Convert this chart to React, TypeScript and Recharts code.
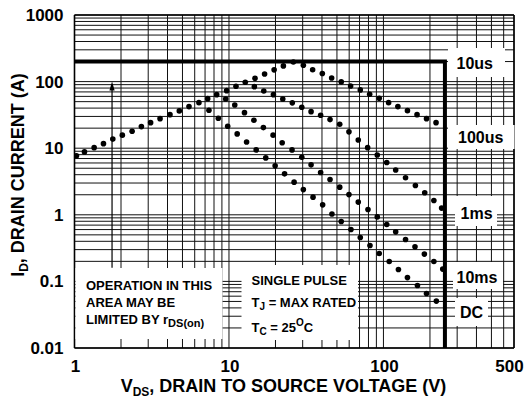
import { ScatterChart, Scatter, XAxis, YAxis, CartesianGrid, ReferenceLine } from 'recharts'

// grid + labels
const xGridTicks = [1, 2, 3, 4, 5, 6, 7, 8, 9, 10, 20, 30, 40, 50, 60, 70, 80, 90, 100, 200, 300, 400, 500, 600, 700]
const xLabelTicks = [1, 10, 100, 500]
const yGridTicks = [
  0.01, 0.02, 0.03, 0.04, 0.05, 0.06, 0.07, 0.08, 0.09,
  0.1, 0.2, 0.3, 0.4, 0.5, 0.6, 0.7, 0.8, 0.9,
  1, 2, 3, 4, 5, 6, 7, 8, 9,
  10, 20, 30, 40, 50, 60, 70, 80, 90,
  100, 200, 300, 400, 500, 600, 700, 800, 900,
  1000,
]
const yLabelTicks = [0.01, 0.1, 1, 10, 100, 1000]
const yLabelText = ['0.01', '0.1', '1', '10', '100', '1000']

// [V, A]
const rdsOnLimit = [
  [1.03, 7.7], [1.16, 8.8], [1.34, 10.2], [1.54, 11.7], [1.77, 13.7], [2.04, 15.7], [2.36, 18.0],
  [2.71, 21.1], [3.11, 24.2], [3.58, 27.8], [4.15, 31.9], [4.77, 36.3], [5.51, 42.1], [6.39, 48.3],
  [7.28, 55.5], [8.33, 63.7], [9.66, 73.1], [11.1, 85.1], [12.75, 97.8], [14.74, 112], [17.0, 130],
  [19.6, 150], [22.5, 172], [26.1, 197],
]
const pulse100us = [
  [30.3, 176], [34.8, 151], [40.2, 132], [46.2, 113], [53.3, 99], [61.3, 86], [70.8, 75], [81.4, 64.6],
  [93.9, 56.2], [108, 48.3], [124, 42.1], [143, 36.6], [165, 31.9], [190, 27.8], [219, 24.2],
]
const pulse1ms = [
  [14.6, 84], [16.8, 72.4], [19.4, 63.7], [22.3, 54.9], [25.7, 48], [29.6, 41.2], [34, 35.4], [39.2, 31.3],
  [45.1, 26.9], [52.1, 22.9], [59.8, 17.6], [68.7, 13.3], [79, 10.2], [91.2, 7.9], [105, 6.1], [120, 4.7],
  [139, 3.6], [161, 2.75], [185, 2.14], [212, 1.64], [238, 1.26],
]
const pulse10ms = [
  [9.52, 54.9], [10.9, 44.6], [12.6, 34.2], [14.5, 26.3], [16.7, 20.4], [19.3, 15.7], [22.1, 12.1],
  [25.6, 9.43], [29.6, 7.33], [34, 5.62], [39.2, 4.31], [45.1, 3.38], [52.1, 2.6], [59.8, 2.01],
  [68.7, 1.55], [79.4, 1.2], [91.2, 0.93], [105, 0.714], [120, 0.555], [139, 0.425], [160, 0.33],
  [184, 0.257], [212, 0.199], [242, 0.153],
]
const dcLimit = [
  [7.42, 37.2], [8.53, 28.2], [9.81, 21.4], [11.3, 16.4], [13, 12.4], [15, 9.43], [17.3, 7.15],
  [19.9, 5.43], [22.9, 4.12], [26.4, 3.09], [30.3, 2.39], [35, 1.84], [40.4, 1.41], [46.4, 1.03],
  [53.3, 0.792], [61.6, 0.601], [70.8, 0.456], [81.8, 0.346], [93.9, 0.262], [109, 0.199], [125, 0.151],
  [143, 0.114], [166, 0.0868], [190, 0.0658], [220, 0.0506],
]
// 10us boundary: 200 A current limit and 250 V breakdown
const pulse10usLimit = [[1, 200], [250, 200], [250, 0.01]]
const rdsArrow = [[1.75, 0.16], [1.75, 100]]

const toPoints = (rows: number[][]) => rows.map(([x, y]) => ({ x, y }))

const FONT = '"Liberation Sans", Arial, Helvetica, sans-serif'

const Dot = (p: any) => <circle cx={p.cx} cy={p.cy} r={2.8} fill="#000" />
const NoDot = () => <g />

const XTick = (props: any) => {
  const { x, y, payload } = props
  if (!xLabelTicks.includes(payload.value)) return <g />
  const dx = payload.value === 500 ? 18 : 1
  return (
    <text x={x + dx} y={y + 24} textAnchor="middle" fontFamily={FONT} fontWeight="bold" fontSize={17} fill="#000">
      {payload.value}
    </text>
  )
}

const YTick = (props: any) => {
  const { x, y, payload } = props
  const i = yLabelTicks.indexOf(payload.value)
  if (i < 0) return <g />
  return (
    <text x={x - 11} y={y + 6} textAnchor="end" fontFamily={FONT} fontWeight="bold" fontSize={17} fill="#000">
      {yLabelText[i]}
    </text>
  )
}

const Arrow = (p: any) => {
  const { x1, y1, x2, y2 } = p
  return (
    <g>
      <line x1={x1} y1={y1} x2={x2} y2={y2 + 6} stroke="#000" strokeWidth={1.2} />
      <polygon points={`${x2},${y2} ${x2 - 2.6},${y2 + 9} ${x2 + 2.6},${y2 + 9}`} fill="#000" />
    </g>
  )
}

const boxes = [
  { x: 75.5, y: 268, w: 147, h: 71 },
  { x: 241.5, y: 265, w: 116.5, h: 75 },
  { x: 448, y: 48, w: 57, h: 29 },
  { x: 448, y: 125, w: 66.5, h: 24 },
  { x: 455, y: 196, w: 42, h: 30 },
  { x: 453, y: 262, w: 50, h: 27 },
  { x: 455, y: 298, w: 33, h: 28 },
]

function Overlay() {
  const t = { fontFamily: FONT, fontWeight: 'bold' as const, fill: '#000' }
  return (
    <svg width={526} height={404} style={{ position: 'absolute', left: 0, top: 0, pointerEvents: 'none' }}>
      {boxes.map((b, i) => (
        <rect key={i} x={b.x} y={b.y} width={b.w} height={b.h} fill="#fff" />
      ))}
      <g {...t} fontSize={13}>
        <text x={86} y={289.5}>OPERATION IN THIS</text>
        <text x={86} y={306.5}>AREA MAY BE</text>
        <text x={86} y={324}>
          LIMITED BY r<tspan dy={3} fontSize={11}>DS(on)</tspan>
        </text>
        <text x={251.5} y={285}>SINGLE PULSE</text>
        <text x={251.5} y={306.5}>
          T<tspan dy={3} fontSize={10}>J</tspan>
          <tspan dy={-3}> = MAX RATED</tspan>
        </text>
        <text x={251.5} y={331.5}>
          T<tspan dy={3} fontSize={10}>C</tspan>
          <tspan dy={-3}> = 25</tspan>
          <tspan dy={-6} fontSize={10}>O</tspan>
          <tspan dy={6}>C</tspan>
        </text>
      </g>
      <g {...t} fontSize={16}>
        <text x={456.5} y={69}>10us</text>
        <text x={458} y={143}>100us</text>
        <text x={460.5} y={219}>1ms</text>
        <text x={456.5} y={282.5}>10ms</text>
        <text x={460} y={318}>DC</text>
      </g>
      <text {...t} fontSize={18} x={283.5} y={392} textAnchor="middle">
        V<tspan dy={4} fontSize={12}>DS</tspan>
        <tspan dy={-4}>, DRAIN TO SOURCE VOLTAGE (V)</tspan>
      </text>
      <text {...t} fontSize={18} textAnchor="middle" transform="translate(24,175) rotate(-90)">
        I<tspan dy={4} fontSize={12}>D</tspan>
        <tspan dy={-4}>, DRAIN CURRENT (A)</tspan>
      </text>
    </svg>
  )
}

export default function App() {
  return (
    <div style={{ position: 'relative', width: 526, height: 404, background: '#fff' }}>
      <style>{'body{margin:0}'}</style>
      <ScatterChart width={526} height={404} margin={{ top: 15, right: 12, bottom: 0, left: 0 }}>
        <CartesianGrid stroke="#111" strokeWidth={1} />
        <XAxis
          type="number"
          dataKey="x"
          scale="log"
          domain={[1, 700]}
          ticks={xGridTicks}
          interval={0}
          allowDataOverflow
          height={56}
          tickSize={0}
          tickMargin={0}
          tickLine={false}
          axisLine={{ stroke: '#000', strokeWidth: 1.6 }}
          tick={XTick}
        />
        <YAxis
          type="number"
          dataKey="y"
          scale="log"
          domain={[0.01, 1000]}
          ticks={yGridTicks}
          interval={0}
          allowDataOverflow
          width={74.5}
          tickSize={0}
          tickMargin={0}
          tickLine={false}
          axisLine={{ stroke: '#000', strokeWidth: 1.6 }}
          tick={YTick}
        />
        <ReferenceLine y={1000} stroke="#000" strokeWidth={1.5} />
        <ReferenceLine x={700} stroke="#000" strokeWidth={1.5} />
        <ReferenceLine
          segment={toPoints(rdsArrow)}
          stroke="#000"
          shape={Arrow}
        />
        <Scatter
          data={toPoints(pulse10usLimit)}
          shape={NoDot}
          line={{ stroke: '#000', strokeWidth: 4 }}
          isAnimationActive={false}
        />
        <Scatter data={toPoints(rdsOnLimit)} shape={Dot} isAnimationActive={false} />
        <Scatter data={toPoints(pulse100us)} shape={Dot} isAnimationActive={false} />
        <Scatter data={toPoints(pulse1ms)} shape={Dot} isAnimationActive={false} />
        <Scatter data={toPoints(pulse10ms)} shape={Dot} isAnimationActive={false} />
        <Scatter data={toPoints(dcLimit)} shape={Dot} isAnimationActive={false} />
      </ScatterChart>
      <Overlay />
    </div>
  )
}
